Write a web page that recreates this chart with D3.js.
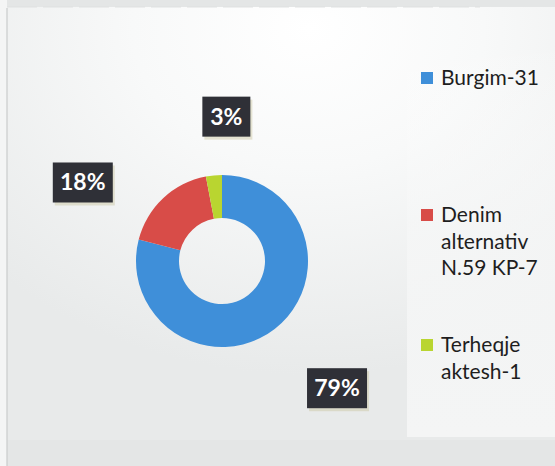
<!DOCTYPE html>
<html>
<head>
<meta charset="utf-8">
<script src="https://cdn.jsdelivr.net/npm/d3@7"></script>
<style>
  html, body { margin: 0; padding: 0; background: #e8e9e9; }
  svg { display: block; }
</style>
</head>
<body>
<div id="chart"></div>
<script>
(function() {
  'use strict';

  var categories = ['Burgim-31', 'Denim alternativ N.59 KP-7', 'Terheqje aktesh-1'];
  var legendLines = [['Burgim-31'], ['Denim', 'alternativ', 'N.59 KP-7'], ['Terheqje', 'aktesh-1']];
  var values = [79, 18, 3];
  var labels = ['79%', '18%', '3%'];
  var colors = ['#3f8fd9', '#d84c48', '#b9d530'];

  var w = 555, h = 466;
  var cx = 222, cy = 261;
  var outerR = 86, innerR = 43;

  var svg = d3.select('#chart').append('svg')
    .attr('width', w)
    .attr('height', h);

  // background: scanned page look, bright in upper middle, greyer at the edges
  var defs = svg.append('defs');
  var grad = defs.append('radialGradient')
    .attr('id', 'bg')
    .attr('cx', 0.55).attr('cy', 0.05).attr('r', 0.8);
  grad.append('stop').attr('offset', '0%').attr('stop-color', '#ffffff');
  grad.append('stop').attr('offset', '40%').attr('stop-color', '#f8f9f9');
  grad.append('stop').attr('offset', '100%').attr('stop-color', '#e8eaea');

  svg.append('rect')
    .attr('x', 0).attr('y', 0).attr('width', w).attr('height', h)
    .attr('fill', '#e4e6e6');
  svg.append('rect')
    .attr('x', 0).attr('y', 0).attr('width', 7).attr('height', h)
    .attr('fill', '#f4f5f5');
  svg.append('rect')
    .attr('x', 7).attr('y', 7).attr('width', w - 7).attr('height', 433)
    .attr('fill', 'url(#bg)');
  // legend panel, faint
  var pgrad = defs.append('linearGradient')
    .attr('id', 'panel').attr('x1', 0).attr('y1', 0).attr('x2', 0).attr('y2', 1);
  pgrad.append('stop').attr('offset', '0%').attr('stop-color', '#ffffff').attr('stop-opacity', 0);
  pgrad.append('stop').attr('offset', '45%').attr('stop-color', '#f6f7f7').attr('stop-opacity', 0.7);
  pgrad.append('stop').attr('offset', '100%').attr('stop-color', '#f4f5f5').attr('stop-opacity', 1);
  svg.append('rect')
    .attr('x', 407).attr('y', 40).attr('width', w - 407).attr('height', 397)
    .attr('fill', 'url(#panel)');
  svg.append('line')
    .attr('x1', 7).attr('x2', 7).attr('y1', 8).attr('y2', 466)
    .attr('stroke', '#c9cccc').attr('stroke-width', 1.2);
  svg.append('line')
    .attr('x1', 7).attr('x2', 480).attr('y1', 7).attr('y2', 7)
    .attr('stroke', '#dfe1e1').attr('stroke-width', 1).attr('stroke-dasharray', '30,6');

  // donut
  var pie = d3.pie().sort(null).value(function(d) { return d; });
  var arc = d3.arc().innerRadius(innerR).outerRadius(outerR);
  var arcs = pie(values);

  var g = svg.append('g').attr('transform', 'translate(' + cx + ',' + cy + ')');
  g.selectAll('path')
    .data(arcs)
    .enter()
    .append('path')
    .attr('d', arc)
    .attr('fill', function(d, i) { return colors[i]; });

  // data label boxes, placed outside the ring along each slice's mid-angle
  var labelR = [142, 142, 145];
  var offsets = [[28, 15], [-42, 25], [18, 0]];
  var boxW = [60, 60, 48], boxH = 40;

  arcs.forEach(function(a, i) {
    var mid = (a.startAngle + a.endAngle) / 2;
    var x = cx + Math.sin(mid) * labelR[i] + offsets[i][0];
    var y = cy - Math.cos(mid) * labelR[i] + offsets[i][1];
    var lg = svg.append('g').attr('transform', 'translate(' + x + ',' + y + ')');
    lg.append('rect')
      .attr('x', -boxW[i] / 2 + 2).attr('y', -boxH / 2 + 3)
      .attr('width', boxW[i]).attr('height', boxH)
      .attr('fill', '#c9c59f').attr('opacity', 0.45);
    lg.append('rect')
      .attr('x', -boxW[i] / 2).attr('y', -boxH / 2)
      .attr('width', boxW[i]).attr('height', boxH)
      .attr('fill', '#2f3037');
    lg.append('text')
      .attr('text-anchor', 'middle')
      .attr('y', 8)
      .attr('fill', '#ffffff')
      .style('font-family', 'Lato, "Open Sans", sans-serif')
      .style('font-weight', 'bold')
      .style('font-size', '23px')
      .text(labels[i]);
  });

  // legend
  var legendY = [85, 222, 352];
  var lineH = 26.5;
  var leg = svg.append('g').attr('class', 'legend');
  categories.forEach(function(c, i) {
    var item = leg.append('g').attr('transform', 'translate(421,' + legendY[i] + ')');
    item.append('rect')
      .attr('x', 0).attr('y', -13)
      .attr('width', 12).attr('height', 12)
      .attr('fill', colors[i]);
    var t = item.append('text')
      .attr('x', 20).attr('y', 0)
      .attr('fill', '#1e1e1e')
      .style('font-family', 'Lato, "Open Sans", sans-serif')
      .style('font-size', '21px');
    legendLines[i].forEach(function(line, j) {
      t.append('tspan')
        .attr('x', 20)
        .attr('y', j * lineH)
        .text(line);
    });
  });
})();
</script>
</body>
</html>
